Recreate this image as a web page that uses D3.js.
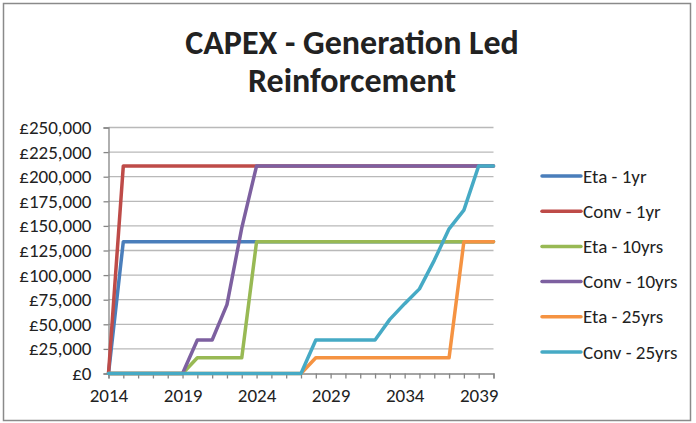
<!DOCTYPE html>
<html>
<head>
<meta charset="utf-8">
<script src="https://cdn.jsdelivr.net/npm/d3@7"></script>
<style>
  body { margin: 0; background: #fff; }
  svg { display: block; }
  text { font-family: Calibri, Carlito, Lato, sans-serif; fill: #222; }
</style>
</head>
<body>
<svg id="chart" width="696" height="423"></svg>
<script>
// years on the category axis
const years = d3.range(2014, 2041);

const seriesNames = ["Eta - 1yr", "Conv - 1yr", "Eta - 10yrs", "Conv - 10yrs", "Eta - 25yrs", "Conv - 25yrs"];
const seriesColors = ["#4a7ebb", "#be4b48", "#98b954", "#7d60a0", "#f59342", "#46aac5"];

// values, 2014..2040
const eta1 = [0, 134000, 134000, 134000, 134000, 134000, 134000, 134000, 134000, 134000,
  134000, 134000, 134000, 134000, 134000, 134000, 134000, 134000, 134000, 134000,
  134000, 134000, 134000, 134000, 134000, 134000, 134000];
const conv1 = [0, 211000, 211000, 211000, 211000, 211000, 211000, 211000, 211000, 211000,
  211000, 211000, 211000, 211000, 211000, 211000, 211000, 211000, 211000, 211000,
  211000, 211000, 211000, 211000, 211000, 211000, 211000];
const eta10 = [0, 0, 0, 0, 0, 0, 16000, 16000, 16000, 16000,
  134000, 134000, 134000, 134000, 134000, 134000, 134000, 134000, 134000, 134000,
  134000, 134000, 134000, 134000, 134000, 134000, 134000];
const conv10 = [0, 0, 0, 0, 0, 0, 34000, 34000, 70000, 148000,
  211000, 211000, 211000, 211000, 211000, 211000, 211000, 211000, 211000, 211000,
  211000, 211000, 211000, 211000, 211000, 211000, 211000];
const eta25 = [0, 0, 0, 0, 0, 0, 0, 0, 0, 0,
  0, 0, 0, 0, 16000, 16000, 16000, 16000, 16000, 16000,
  16000, 16000, 16000, 16000, 134000, 134000, 134000];
const conv25 = [0, 0, 0, 0, 0, 0, 0, 0, 0, 0,
  0, 0, 0, 0, 34000, 34000, 34000, 34000, 34000, 55000,
  71000, 86000, 115000, 147000, 166000, 211000, 211000];

const seriesValues = [eta1, conv1, eta10, conv10, eta25, conv25];
const yTicks = d3.range(0, 250001, 25000);
const xLabelYears = [2014, 2019, 2024, 2029, 2034, 2039];

const svg = d3.select("#chart");
const margin = { left: 108.5, right: 202.5, top: 127.5, bottom: 49.5 };
const width = 696 - margin.left - margin.right;
const height = 423 - margin.top - margin.bottom;

// outer frame
svg.append("rect")
  .attr("x", 3.5).attr("y", 3.5)
  .attr("width", 687).attr("height", 417)
  .attr("fill", "#fff")
  .attr("stroke", "#8a8a8a")
  .attr("stroke-width", 1.5);

// title
svg.append("text")
  .attr("text-anchor", "middle")
  .attr("font-weight", "bold")
  .attr("font-size", 34)
  .selectAll("tspan")
  .data(["CAPEX - Generation Led", "Reinforcement"])
  .join("tspan")
  .attr("x", 352)
  .attr("y", (d, i) => 54 + i * 38)
  .text(d => d);

const x = d3.scaleLinear().domain([2014, 2040]).range([0, width]);
const y = d3.scaleLinear().domain([0, 250000]).range([height, 0]);

const g = svg.append("g").attr("transform", `translate(${margin.left},${margin.top})`);

// grid
g.append("g")
  .selectAll("line")
  .data(yTicks.filter(d => d > 0))
  .join("line")
  .attr("x1", 0).attr("x2", width)
  .attr("y1", d => y(d))
  .attr("y2", d => y(d))
  .attr("stroke", "#b9b9b9")
  .attr("stroke-width", 1.3);

// y axis
const yAxis = g.append("g")
  .call(d3.axisLeft(y).tickValues(yTicks).tickSize(5).tickPadding(12)
    .tickFormat(d => "£" + d3.format(",")(d)));
yAxis.selectAll("text").attr("font-size", 19).attr("fill", "#222");

// x axis
const xAxis = g.append("g")
  .attr("transform", `translate(0,${height})`)
  .call(d3.axisBottom(x).tickValues(years).tickSize(5).tickPadding(10)
    .tickFormat(d => xLabelYears.includes(d) ? d : ""));
xAxis.selectAll("text").attr("font-size", 19).attr("fill", "#222");

[yAxis, xAxis].forEach(a => {
  a.select(".domain").attr("stroke", "#868686").attr("stroke-width", 1.3);
  a.selectAll(".tick line").attr("stroke", "#868686").attr("stroke-width", 1.3);
});

// series lines
const line = d3.line()
  .x((d, i) => x(years[i]))
  .y(d => y(d));

g.append("g")
  .selectAll("path")
  .data(seriesValues)
  .join("path")
  .attr("d", line)
  .attr("fill", "none")
  .attr("stroke", (d, i) => seriesColors[i])
  .attr("stroke-width", 3.5)
  .attr("stroke-linejoin", "round")
  .attr("stroke-linecap", "round");

// legend
const legend = svg.append("g")
  .selectAll("g")
  .data(seriesNames)
  .join("g")
  .attr("transform", (d, i) => `translate(542,${176 + i * 35.2})`);

legend.append("line")
  .attr("x1", 0).attr("x2", 39)
  .attr("stroke", (d, i) => seriesColors[i])
  .attr("stroke-width", 3.5)
  .attr("stroke-linecap", "round");

legend.append("text")
  .attr("x", 41)
  .attr("dy", "0.35em")
  .attr("font-size", 19)
  .text(d => d);
</script>
</body>
</html>
